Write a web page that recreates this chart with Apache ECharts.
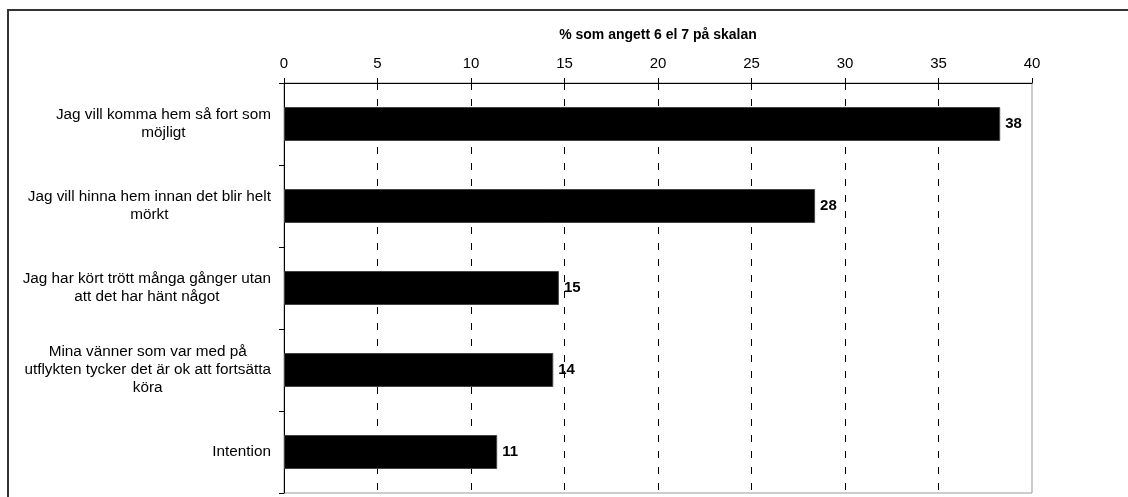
<!DOCTYPE html>
<html>
<head>
<meta charset="utf-8">
<script src="https://cdn.jsdelivr.net/npm/echarts@6/dist/echarts.min.js"></script>
<style>
html,body{margin:0;padding:0;background:#fff;}
#chart{width:1128px;height:497px;}
</style>
</head>
<body>
<div id="chart"></div>
<script>
// Data
const categories = [
  'Jag vill komma hem så fort som\nmöjligt',
  'Jag vill hinna hem innan det blir helt\nmörkt',
  'Jag har kört trött många gånger utan\natt det har hänt något',
  'Mina vänner som var med på\nutflykten tycker det är ok att fortsätta\nköra',
  'Intention'
];
const values = [38.3, 28.4, 14.7, 14.4, 11.4];
const axisTitle = '% som angett 6 el 7 på skalan';
const xTicks = [0, 5, 10, 15, 20, 25, 30, 35, 40];

const FONT = '"Liberation Sans", Arial, sans-serif';
const chart = echarts.init(document.getElementById('chart'), null, {renderer: 'canvas'});

chart.setOption({
  animation: false,
  backgroundColor: '#fff',
  graphic: [{
    type: 'rect',
    shape: {x: 8, y: 10, width: 1300, height: 700},
    style: {fill: 'none', stroke: '#333', lineWidth: 2},
    silent: true
  }],
  grid: {
    left: 284, right: 96, top: 83, bottom: 4,
    show: true, borderColor: '#999', borderWidth: 1, backgroundColor: 'transparent'
  },
  xAxis: {
    type: 'value',
    position: 'top',
    min: xTicks[0],
    max: xTicks[xTicks.length - 1],
    interval: xTicks[1] - xTicks[0],
    name: axisTitle,
    nameLocation: 'middle',
    nameGap: 41,
    nameTextStyle: {fontFamily: FONT, fontSize: 14, fontWeight: 'bold', color: '#000'},
    axisLine: {show: true, lineStyle: {color: '#000', width: 1}},
    axisTick: {show: true, length: 5, lineStyle: {color: '#000'}},
    axisLabel: {fontFamily: FONT, fontSize: 15, color: '#000', margin: 12},
    splitLine: {
      show: true,
      showMinLine: false,
      showMaxLine: false,
      lineStyle: {color: '#000', width: 1, type: [7, 9]}
    }
  },
  yAxis: {
    type: 'category',
    data: categories,
    inverse: true,
    axisLine: {show: true, lineStyle: {color: '#000', width: 1}},
    axisTick: {show: true, length: 5, lineStyle: {color: '#000'}},
    axisLabel: {
      margin: 13,
      color: '#000',
      fontFamily: FONT,
      fontSize: 15,
      lineHeight: 18,
      formatter: function (v) {
        return v.split('\n').map(function (l) { return '{c|' + l + '}'; }).join('\n');
      },
      rich: {c: {align: 'center', fontFamily: FONT, fontSize: 15.3, lineHeight: 18, color: '#000'}}
    },
    splitLine: {show: false}
  },
  series: [{
    type: 'bar',
    data: values,
    barWidth: 34,
    itemStyle: {color: '#000', borderColor: '#444', borderWidth: 1},
    label: {
      show: true,
      position: 'right',
      distance: 5,
      fontFamily: FONT,
      fontSize: 15,
      fontWeight: 'bold',
      color: '#000',
      formatter: function (p) { return Math.round(p.value); }
    }
  }]
});
</script>
</body>
</html>
